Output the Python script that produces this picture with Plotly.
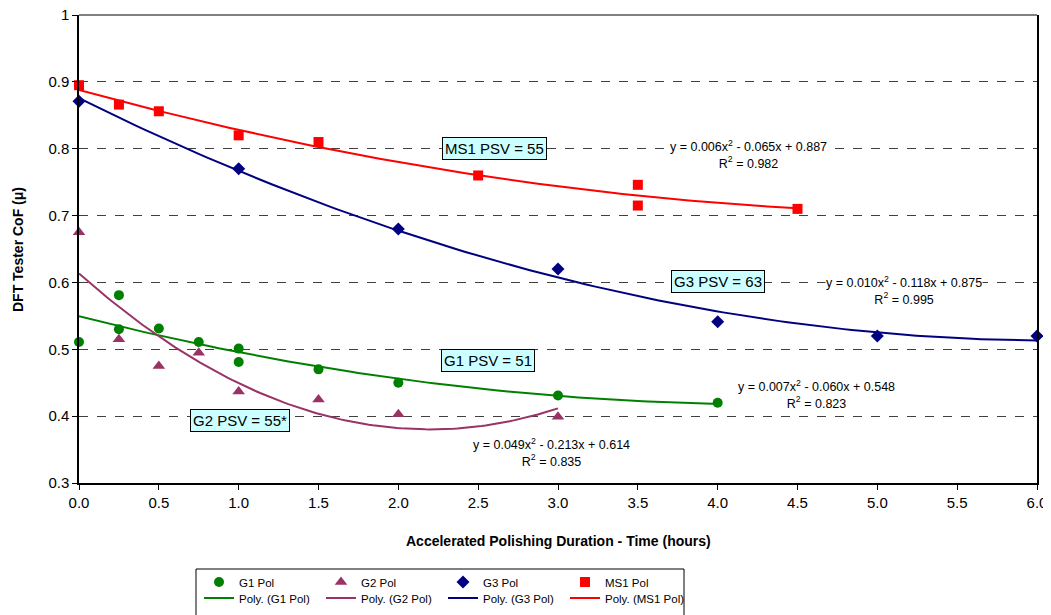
import numpy as np
import plotly.graph_objects as go

# ---- data ----
g1_x = [0, 0.25, 0.25, 0.5, 0.75, 1.0, 1.0, 1.5, 2.0, 3.0, 4.0]
g1_y = [0.511, 0.581, 0.530, 0.531, 0.511, 0.501, 0.481, 0.470, 0.450, 0.431, 0.420]
g2_x = [0, 0.25, 0.5, 0.75, 1.0, 1.5, 2.0, 3.0]
g2_y = [0.675, 0.515, 0.475, 0.495, 0.437, 0.425, 0.403, 0.399]
g3_x = [0, 1.0, 2.0, 3.0, 4.0, 5.0, 6.0]
g3_y = [0.871, 0.770, 0.680, 0.620, 0.541, 0.520, 0.520]
ms1_x = [0, 0.25, 0.5, 1.0, 1.5, 2.5, 3.5, 3.5, 4.5]
ms1_y = [0.895, 0.866, 0.856, 0.820, 0.810, 0.760, 0.746, 0.715, 0.710]

# trendline equations (a x^2 + b x + c) and R^2 as printed on the chart
g1_coef = [0.007, -0.060, 0.548]; g1_r2 = 0.823
g2_coef = [0.049, -0.213, 0.614]; g2_r2 = 0.835
g3_coef = [0.010, -0.118, 0.875]; g3_r2 = 0.995
ms1_coef = [0.006, -0.065, 0.887]; ms1_r2 = 0.982

x_ticks = [0, 0.5, 1.0, 1.5, 2.0, 2.5, 3.0, 3.5, 4.0, 4.5, 5.0, 5.5, 6.0]
y_ticks = [0.3, 0.4, 0.5, 0.6, 0.7, 0.8, 0.9, 1.0]
y_tick_text = ["0.3", "0.4", "0.5", "0.6", "0.7", "0.8", "0.9", "1"]

GREEN = "#008000"; PURPLE = "#993366"; NAVY = "#000080"; RED = "#FF0000"
FONT = "Liberation Sans, Arial, sans-serif"

OFF = 8  # page body margin
W, H = 1051 - OFF, 615 - OFF
ML, MT = 79 - OFF, 15 - OFF
MR = 1051 - 1037
MB = 615 - 483
PW, PH = W - ML - MR, H - MT - MB

def px_x(p):  # screen pixel -> paper x
    return (p - OFF - ML) / PW

def px_y(p):  # screen pixel -> paper y
    return (H - MB - (p - OFF)) / PH

fig = go.Figure()

series = [
    ("G1 Pol", g1_x, g1_y, g1_coef, g1_r2, GREEN, "circle", 10),
    ("G2 Pol", g2_x, g2_y, g2_coef, g2_r2, PURPLE, "triangle-up", 11),
    ("G3 Pol", g3_x, g3_y, g3_coef, g3_r2, NAVY, "diamond", 10),
    ("MS1 Pol", ms1_x, ms1_y, ms1_coef, ms1_r2, RED, "square", 10),
]

for name, xs, ys, coef, r2, col, sym, sz in series:
    fig.add_trace(go.Scatter(x=xs, y=ys, mode="markers", name=name,
                             marker=dict(color=col, symbol=sym, size=sz, line=dict(width=0)),
                             legend="legend", cliponaxis=False))

# polynomial (order 2) trendlines fitted to each series, as in the original
for name, xs, ys, coef, r2, col, sym, sz in series:
    fit = np.polyfit(xs, ys, 2)
    xl = np.linspace(min(xs), max(xs), 120)
    yl = np.polyval(fit, xl)
    fig.add_trace(go.Scatter(x=xl, y=yl, mode="lines", name=f"Poly. ({name})",
                             line=dict(color=col, width=2), legend="legend2"))

def eq_text(coef, r2):
    a, b, c = coef
    sb = "-" if b < 0 else "+"
    sc = "-" if c < 0 else "+"
    return (f"y = {a:.3f}x<sup>2</sup> {sb} {abs(b):.3f}x {sc} {abs(c):.3f}<br>"
            f"R<sup>2</sup> = {r2:.3f}")

eqs = [(4.19, 0.792, ms1_coef, ms1_r2), (5.17, 0.588, g3_coef, g3_r2),
       (4.62, 0.433, g1_coef, g1_r2), (2.96, 0.345, g2_coef, g2_r2)]
for x, y, coef, r2 in eqs:
    fig.add_annotation(x=x, y=y, text=eq_text(coef, r2), showarrow=False,
                       font=dict(family=FONT, size=12.5, color="black"),
                       bgcolor="white", borderpad=0, align="center")

labels = [(2.60, 0.801, "MS1 PSV = 55"), (4.0, 0.602, "G3 PSV = 63"),
          (2.56, 0.4825, "G1 PSV = 51"), (1.01, 0.393, "G2 PSV = 55*")]
for x, y, t in labels:
    fig.add_annotation(x=x, y=y, text=t, showarrow=False,
                       font=dict(family=FONT, size=15, color="black"),
                       bgcolor="#CCFFFF", bordercolor="#000000", borderwidth=1, borderpad=2)

# axis titles
fig.add_annotation(xref="paper", yref="paper", x=px_x(558), y=px_y(541),
                   text="<b>Accelerated Polishing Duration - Time (hours)</b>", showarrow=False,
                   font=dict(family=FONT, size=14, color="black"), xanchor="center", yanchor="middle")
fig.add_annotation(xref="paper", yref="paper", x=px_x(18), y=px_y(249),
                   text="<b>DFT Tester CoF (\u03bc)</b>", showarrow=False, textangle=-90,
                   font=dict(family=FONT, size=14, color="black"), xanchor="center", yanchor="middle")

# top border line of plot area
fig.add_shape(type="line", xref="paper", yref="paper", x0=0, x1=1, y0=1, y1=1,
              line=dict(color="#808080", width=2))
# legend frame
fig.add_shape(type="rect", xref="paper", yref="paper", x0=px_x(196), x1=px_x(684),
              y0=px_y(569), y1=px_y(660), line=dict(color="#000000", width=1))

fig.update_layout(
    width=W, height=H,
    margin=dict(l=ML, r=MR, t=MT, b=MB, autoexpand=False),
    paper_bgcolor="white", plot_bgcolor="white",
    font=dict(family=FONT, size=15, color="black"),
    showlegend=True,
    legend=dict(orientation="h", x=px_x(199), xanchor="left", y=px_y(582), yanchor="middle",
                entrywidth=77, entrywidthmode="pixels",
                font=dict(family=FONT, size=11.5), bgcolor="rgba(0,0,0,0)", itemclick=False),
    legend2=dict(orientation="h", x=px_x(199), xanchor="left", y=px_y(598), yanchor="middle",
                 entrywidth=77, entrywidthmode="pixels",
                 font=dict(family=FONT, size=11.5), bgcolor="rgba(0,0,0,0)", itemclick=False),
    xaxis=dict(range=[0, 6], tickvals=x_ticks, ticktext=[f"{v:.1f}" for v in x_ticks],
               showgrid=False, zeroline=False, showline=True, linecolor="black", linewidth=1.5,
               ticks="outside", ticklen=5, tickcolor="black", automargin=False,
               ticklabeloverflow="allow"),
    yaxis=dict(range=[0.3, 1.0], tickvals=y_ticks, ticktext=y_tick_text,
               showgrid=True, gridcolor="#404040", griddash="dash", gridwidth=1,
               zeroline=False, showline=True, linecolor="black", linewidth=1.5, mirror=True,
               ticks="outside", ticklen=5, tickcolor="black", automargin=False,
               ticklabeloverflow="allow"),
)

fig.write_html("out.html")
